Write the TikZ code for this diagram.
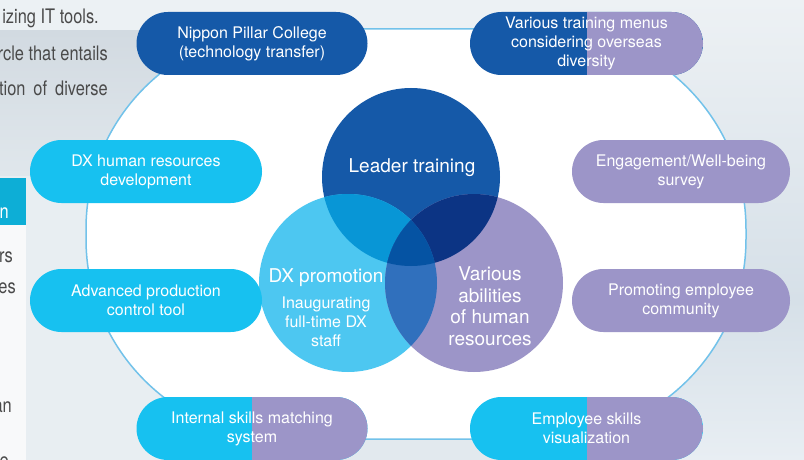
\documentclass[tikz,border=0pt]{standalone}
\usepackage{fontspec}
\setmainfont{TeX Gyre Heros}
\newfontfamily\narrowfont[FakeStretch=0.82]{TeX Gyre Heros}
\usetikzlibrary{shapes.misc}
\definecolor{pillarblue}{HTML}{1559A8}
\definecolor{pillarcyan}{HTML}{17C1F0}
\definecolor{pillarpurple}{HTML}{9C95C8}
\definecolor{dxcyan}{HTML}{4DC7F1}
\definecolor{ldover}{HTML}{0896D6}
\definecolor{lvover}{HTML}{0C3484}
\definecolor{dvover}{HTML}{3070BD}
\definecolor{allover}{HTML}{0553A3}
\definecolor{ringline}{HTML}{72C2EA}
\definecolor{bodygray}{HTML}{4A4A4A}
\definecolor{tealbar}{HTML}{0DAED6}
\begin{document}
\begin{tikzpicture}[x=1pt,y=-1pt,
    pill/.style={rounded rectangle, minimum width=232pt, minimum height=63pt, inner sep=0pt,
      text=white, align=center, font=\fontsize{16}{19}\selectfont},
    halfpurple/.style={path picture={\fill[pillarpurple] (path picture bounding box.north)
      rectangle (path picture bounding box.south east);}},
    ringtext/.style={text=white, align=center, font=\fontsize{19}{21.5}\selectfont},
    bodytext/.style={text=bodygray, anchor=east, inner sep=0pt, font=\narrowfont\fontsize{20}{24}\selectfont}]
  \useasboundingbox (0,0) rectangle (804,460);
  \begin{scope}
    \clip (0,0) rectangle (804,460);
    \fill[fill={rgb,255:red,226;green,233;blue,238}] (0,0) rectangle (804,460);
    \fill[fill={rgb,255:red,236;green,241;blue,244}] (0,0) rectangle (560,31);
    \shade[top color={rgb,255:red,210;green,218;blue,225}, bottom color={rgb,255:red,224;green,231;blue,236}] (0,31) rectangle (330,176);
    \shade[top color={rgb,255:red,237;green,241;blue,244}, bottom color={rgb,255:red,214;green,224;blue,232}] (560,0) rectangle (804,300);
    \shade[top color={rgb,255:red,214;green,224;blue,232}, bottom color={rgb,255:red,232;green,238;blue,243}] (560,300) rectangle (804,460);
    \fill[fill={rgb,255:red,232;green,238;blue,242}] (0,176) rectangle (330,460);
    \fill[fill={rgb,255:red,248;green,249;blue,250}] (0,225) rectangle (26,460);
    \fill[tealbar] (0,178) rectangle (26,225);
    % cut-off text of the page
    \node[bodytext] (line1) at (99,18) {izing IT tools.};
    \node[bodytext] (line2) at (108,53) {rcle that entails};
    \node[bodytext] (line3) at (108,88) {tion\hspace{8pt}of\hspace{8pt}diverse};
    \node[bodytext, text=white] (head) at (9,213) {n};
    \node[bodytext] (side1) at (13,257) {rs};
    \node[bodytext] (side2) at (16,288) {es};
    \node[bodytext] (side3) at (12,407) {an};
    \node[bodytext] (side4) at (9,462) {e};
  \end{scope}

  \draw[ringline, line width=1.5pt, fill=white, rounded corners=200pt] (86,29) rectangle (746,439);

  % venn
  \coordinate (lc) at (411,177);
  \coordinate (dc) at (348,283);
  \coordinate (vc) at (474,283);
  \fill[pillarblue] (lc) circle (89pt);
  \fill[dxcyan] (dc) circle (89pt);
  \fill[pillarpurple] (vc) circle (89pt);
  \begin{scope}
    \clip (lc) circle (89pt);
    \fill[ldover] (dc) circle (89pt);
    \fill[lvover] (vc) circle (89pt);
  \end{scope}
  \begin{scope}
    \clip (dc) circle (89pt);
    \fill[dvover] (vc) circle (89pt);
    \clip (vc) circle (89pt);
    \fill[allover] (lc) circle (89pt);
  \end{scope}
  \node[ringtext] (leader) at (412,168) {Leader training};
  \node[ringtext] (dxprom) at (326,278) {DX promotion};
  \node[ringtext, font=\fontsize{16}{19}\selectfont] (dxstaff) at (326,322) {Inaugurating\\full-time DX\\staff};
  \node[ringtext] (various) at (490,306) {Various\\abilities\\of human\\resources};

  % pills
  \node[pill, fill=pillarblue, minimum width=231pt] (college) at (252,43.5) {Nippon Pillar College\\(technology transfer)};
  \node[pill, fill=pillarblue, halfpurple, minimum width=233pt] (menus) at (586.5,43.5) {Various training menus\\considering overseas\\diversity};
  \node[pill, fill=pillarcyan] (dxhr) at (146,171.5) {DX human resources\\development};
  \node[pill, fill=pillarcyan] (prodtool) at (146,300.5) {Advanced production\\control tool};
  \node[pill, fill=pillarcyan, halfpurple, minimum width=231pt] (matching) at (252,428.5) {Internal skills matching\\system};
  \node[pill, fill=pillarcyan, halfpurple, minimum width=233pt] (skills) at (586.5,428.5) {Employee skills\\visualization};
  \node[pill, fill=pillarpurple, minimum width=218pt] (engage) at (681,171.5) {Engagement/Well-being\\survey};
  \node[pill, fill=pillarpurple, minimum width=218pt] (community) at (681,300.5) {Promoting employee\\community};
\end{tikzpicture}
\end{document}
